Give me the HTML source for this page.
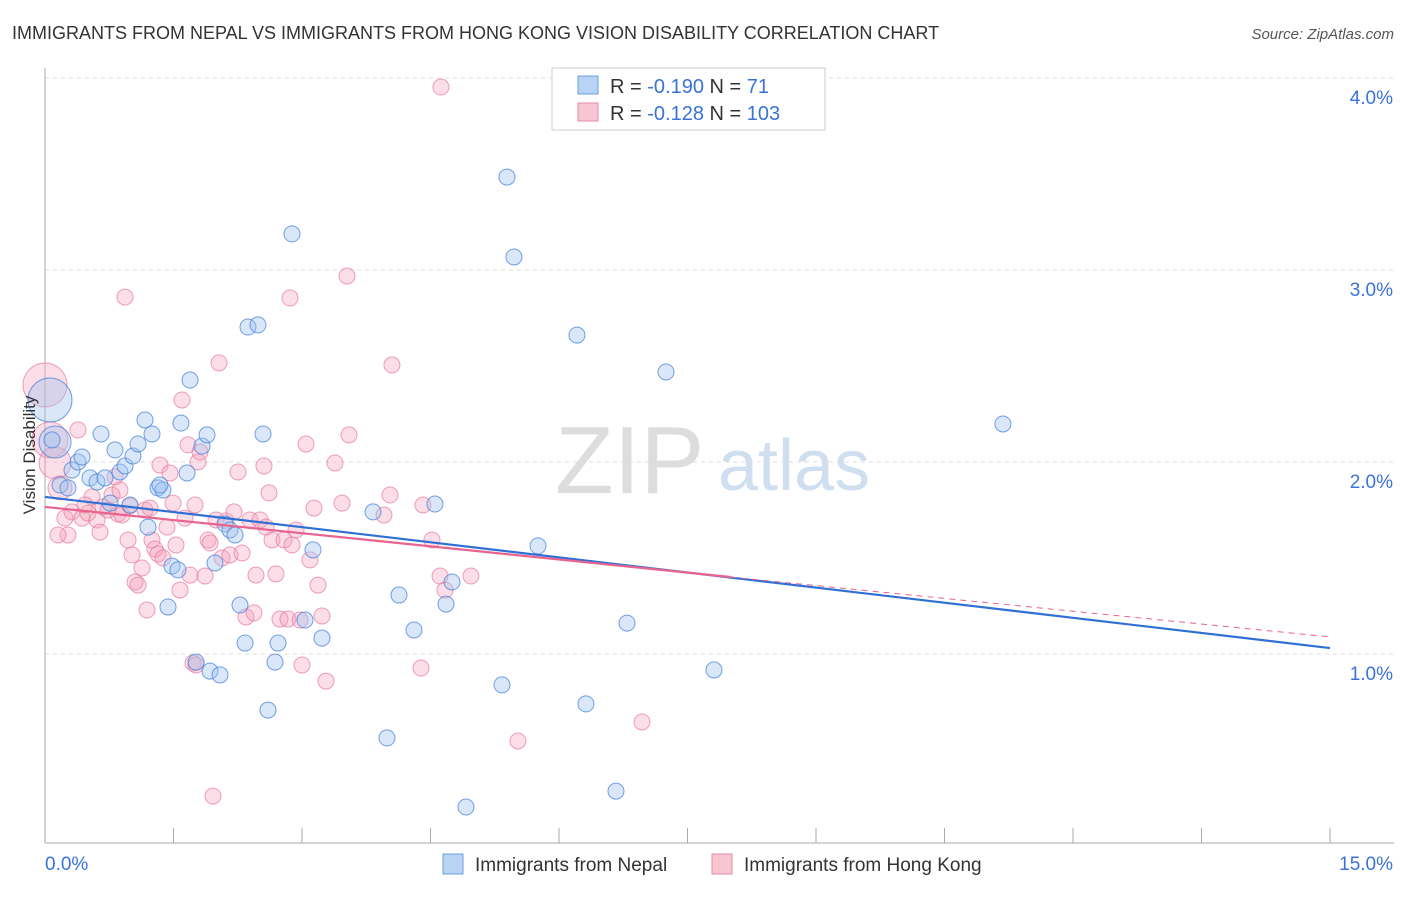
<!DOCTYPE html>
<html><head><meta charset="utf-8">
<style>
body{margin:0;background:#fff;font-family:"Liberation Sans",sans-serif;}
svg text{font-family:"Liberation Sans",sans-serif;}
</style></head>
<body>
<svg id="chart" width="1406" height="892" xmlns="http://www.w3.org/2000/svg">
<text x="12" y="39" font-size="18" fill="#333">IMMIGRANTS FROM NEPAL VS IMMIGRANTS FROM HONG KONG VISION DISABILITY CORRELATION CHART</text>
<text x="1394" y="39" font-size="15" fill="#555" font-style="italic" text-anchor="end">Source: ZipAtlas.com</text>
<g>
<text x="555" y="493" font-size="96" fill="#ddd" font-family="Liberation Serif">ZIP</text>
<text x="718" y="490" font-size="72" fill="#cfdff0">atlas</text>
</g>
<g id="grid"></g>
<g id="axes"></g>
<g id="pts"></g>
<g id="lines"></g>
<text x="35" y="455" font-size="17" fill="#333" text-anchor="middle" transform="rotate(-90 35 455)">Vision Disability</text>
<g>
<rect x="552" y="68" width="273" height="62" fill="#fff" stroke="#ccc"/>
<rect x="578" y="76" width="20" height="18" fill="#b8d3f3" stroke="#6a9fe0"/>
<rect x="578" y="103" width="20" height="18" fill="#f8c6d3" stroke="#e88aa6"/>
<text x="610" y="93" font-size="20" fill="#333">R = <tspan fill="#3a72d8">-0.190</tspan>   N = <tspan fill="#3a72d8">  71</tspan></text>
<text x="610" y="120" font-size="20" fill="#333">R = <tspan fill="#3a72d8">-0.128</tspan>   N = <tspan fill="#3a72d8">103</tspan></text>
</g>
<g>
<rect x="443" y="854" width="20" height="20" fill="#b8d3f3" stroke="#6a9fe0"/>
<text x="475" y="871" font-size="19" fill="#333">Immigrants from Nepal</text>
<rect x="712" y="854" width="20" height="20" fill="#f8c6d3" stroke="#e88aa6"/>
<text x="744" y="871" font-size="19" fill="#333">Immigrants from Hong Kong</text>
</g>
</svg>
<script>
const yTicks=[1,2,3,4];
const yTickLabels=["1.0%","2.0%","3.0%","4.0%"];
const xTickCount=10;
const xMin=0,xMax=15;
const nepalPx=[[50,400,22],[55,442,16],[52,440],[60,485],[68,488],[72,470],[78,462],[82,457],[90,478],[97,482],[101,434],[105,478],[110,503],[115,450],[120,472],[125,466],[130,505],[133,456],[138,444],[145,420],[148,527],[152,434],[158,488],[163,490],[168,607],[172,566],[178,570],[181,423],[187,473],[190,380],[196,662],[202,446],[207,435],[210,671],[215,563],[220,675],[225,524],[230,530],[235,535],[240,605],[245,643],[248,327],[258,325],[263,434],[268,710],[275,662],[278,643],[292,234],[305,620],[313,550],[322,638],[373,512],[387,738],[399,595],[414,630],[435,504],[446,604],[452,582],[466,807],[502,685],[507,177],[514,257],[538,546],[577,335],[586,704],[616,791],[627,623],[666,372],[714,670],[1003,424],[160,485]];
const hkPx=[[45,385,22],[50,440,18],[55,463,16],[60,488,12],[65,518],[68,535],[72,512],[78,430],[82,518],[88,513],[92,497],[97,520],[100,532],[103,507],[108,510],[112,495],[115,477],[118,514],[122,515],[125,297],[128,540],[130,506],[132,555],[135,582],[138,585],[142,568],[145,510],[147,610],[150,508],[152,540],[155,549],[158,554],[160,465],[163,558],[167,527],[170,473],[173,503],[176,545],[180,590],[182,400],[185,518],[188,445],[190,575],[193,663],[196,665],[198,462],[200,452],[205,576],[208,540],[210,543],[213,796],[216,520],[219,363],[222,558],[226,521],[230,555],[234,512],[238,472],[242,553],[246,617],[250,520],[254,613],[256,575],[260,520],[264,466],[266,527],[269,493],[272,540],[276,574],[280,619],[284,540],[288,619],[290,298],[292,545],[296,530],[300,620],[302,665],[306,444],[310,560],[314,508],[318,585],[322,616],[326,681],[335,463],[342,503],[347,276],[349,435],[384,515],[390,495],[392,365],[421,668],[423,505],[432,540],[440,576],[445,590],[471,576],[518,741],[642,722],[441,87],[58,535],[85,505],[195,505],[120,490]];
// convert read pixel positions to data values once
const nepalX=nepalPx.map(p=>+((p[0]-45)/85.67).toFixed(3));
const nepalY=nepalPx.map(p=>+((654-p[1])/192+1).toFixed(3));
const nepalR=nepalPx.map(p=>p[2]||8);
const hkX=hkPx.map(p=>+((p[0]-45)/85.67).toFixed(3));
const hkY=hkPx.map(p=>+((654-p[1])/192+1).toFixed(3));
const hkR=hkPx.map(p=>p[2]||8);
const nepalTrend=[[0,1.818],[15,1.031]];
const hkTrend=[[0,1.766],[8,1.401],[15,1.089]];
const X0=45,X1=1330;
function sx(v){return X0+(v-xMin)/(xMax-xMin)*(X1-X0);}
function sy(v){return 654-(v-1)*192;}
const NS="http://www.w3.org/2000/svg";
function mk(t,a,parent){const e=document.createElementNS(NS,t);for(const k in a)e.setAttribute(k,a[k]);document.getElementById(parent).appendChild(e);return e;}
yTicks.forEach((t,i)=>{
 const g=mk('line',{x1:45,x2:1394,y1:sy(t),y2:sy(t),stroke:'#ddd','stroke-dasharray':'4 4'},'grid');
 
 
 const l=mk('text',{x:1393,y:sy(t)+26,'font-size':19,fill:'#3a72d8','text-anchor':'end'},'axes');
 l.textContent=yTickLabels[i];
 
 
});
let a=mk('line',{x1:45,x2:45,y1:68,y2:843,stroke:'#aaa'},'axes');


a=mk('line',{x1:45,x2:1394,y1:843,y2:843,stroke:'#aaa'},'axes');


for(let i=0;i<=xTickCount;i++){
 const v=xMin+(xMax-xMin)*i/xTickCount;
 const t=mk('line',{x1:sx(v),x2:sx(v),y1:828,y2:843,stroke:'#aaa'},'axes');
 
 
}
let xl=mk('text',{x:45,y:870,'font-size':19,fill:'#3a72d8'},'axes');xl.textContent=xMin.toFixed(1)+'%';


xl=mk('text',{x:1393,y:870,'font-size':19,fill:'#3a72d8','text-anchor':'end'},'axes');xl.textContent=xMax.toFixed(1)+'%';


hkX.forEach((x,i)=>{
 const c=mk('circle',{cx:sx(x),cy:sy(hkY[i]),r:hkR[i],fill:'rgba(244,160,185,0.35)',stroke:'rgba(232,120,155,0.7)','stroke-width':1},'pts');
 
 
});
nepalX.forEach((x,i)=>{
 const c=mk('circle',{cx:sx(x),cy:sy(nepalY[i]),r:nepalR[i],fill:'rgba(160,195,240,0.4)',stroke:'rgba(70,130,220,0.75)','stroke-width':1},'pts');
 
 
});
let ln=mk('line',{x1:sx(nepalTrend[0][0]),y1:sy(nepalTrend[0][1]),x2:sx(nepalTrend[1][0]),y2:sy(nepalTrend[1][1]),stroke:'#2f6fd6','stroke-width':2.2},'lines');


ln=mk('line',{x1:sx(hkTrend[0][0]),y1:sy(hkTrend[0][1]),x2:sx(hkTrend[1][0]),y2:sy(hkTrend[1][1]),stroke:'#e8648f','stroke-width':2.2},'lines');


ln=mk('line',{x1:sx(hkTrend[1][0]),y1:sy(hkTrend[1][1]),x2:sx(hkTrend[2][0]),y2:sy(hkTrend[2][1]),stroke:'#e8648f','stroke-width':1,'stroke-dasharray':'6 5'},'lines');


</script>
</body></html>
